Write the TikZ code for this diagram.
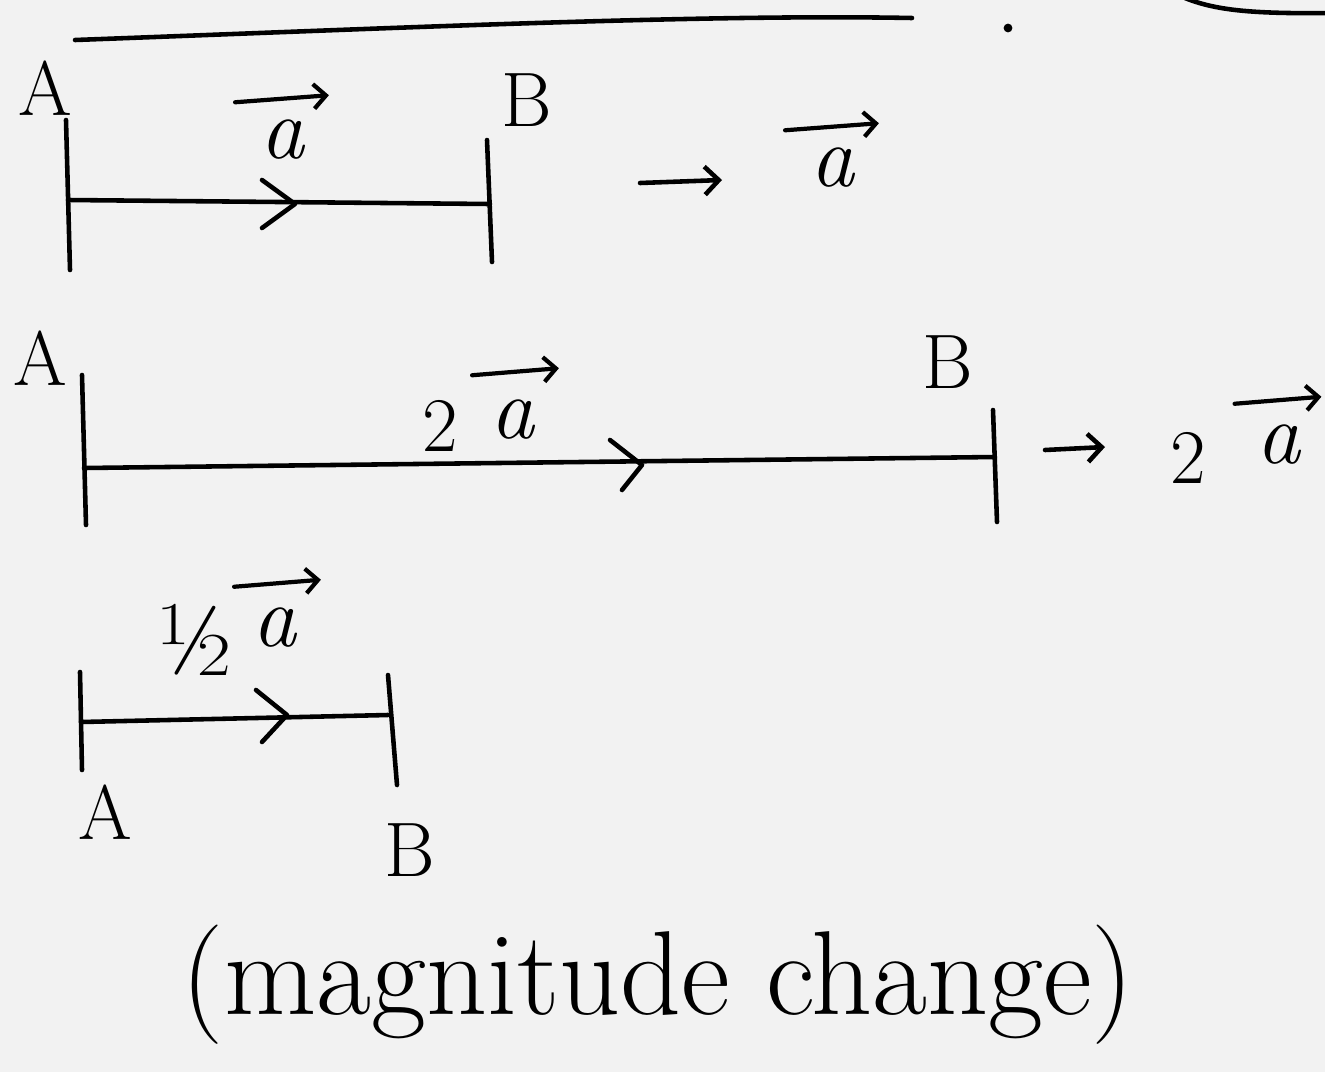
\documentclass[tikz,border=0pt]{standalone}
\usepackage{fontspec}
\usetikzlibrary{arrows.meta}
\definecolor{bg}{HTML}{F2F2F2}
\begin{document}
\begin{tikzpicture}[x=0.02cm,y=-0.02cm, line cap=round, line join=round,
  ink/.style={line width=2.6pt, black},
  lbl/.style={font=\fontsize{44}{50}\selectfont, inner sep=0pt},
  vecl/.style={font=\itshape\fontsize{50}{56}\selectfont, inner sep=0pt},
  vecbar/.style={line width=2.4pt, -{Straight Barb[length=7pt,width=14pt,line width=2.4pt]}},
  maparrow/.style={line width=2.6pt, -{Straight Barb[length=8pt,width=16pt,line width=2.6pt]}}]
\fill[bg] (0,0) rectangle (1325,1072);
\useasboundingbox (0,0) rectangle (1325,1072);

% top remnants
\coordinate (t1) at (75,40);
\coordinate (t2) at (912,18);
\draw[ink] (t1) .. controls (400,28) and (700,14) .. (t2);
\fill (1008,28) circle (2.5pt);
\coordinate (arcS) at (1185,-2);
\coordinate (arcE) at (1330,13);
\draw[ink] (arcS) .. controls (1215,10) and (1250,14) .. (arcE);

% ---------- row 1 ----------
\coordinate (A1t) at (66,120); \coordinate (A1b) at (70,270);
\coordinate (B1t) at (487,140); \coordinate (B1b) at (492,262);
\coordinate (L1s) at (68,200); \coordinate (L1e) at (490,204);
\draw[ink] (A1t) -- (A1b);
\draw[ink] (B1t) -- (B1b);
\draw[ink] (L1s) -- (L1e);
\coordinate (c1a) at (262,180); \coordinate (c1m) at (295,204); \coordinate (c1b) at (262,228);
\draw[ink] (c1a) -- (c1m) -- (c1b);
\node[lbl] (A1) at (45,88) {A};
\node[lbl] (B1) at (527,100) {B};
\node[vecl] (a1) at (282,140) {a};
\draw[vecbar] ([xshift=-14pt,yshift=10pt]a1.north west) -- ([xshift=14pt,yshift=14pt]a1.north east);
\coordinate (r1s) at (640,183); \coordinate (r1e) at (722,180);
\draw[maparrow] (r1s) -- (r1e);
\node[vecl] (a1r) at (832,168) {a};
\draw[vecbar] ([xshift=-14pt,yshift=10pt]a1r.north west) -- ([xshift=14pt,yshift=14pt]a1r.north east);

% ---------- row 2 ----------
\coordinate (A2t) at (82,375); \coordinate (A2b) at (86,525);
\coordinate (B2t) at (993,410); \coordinate (B2b) at (997,522);
\coordinate (L2s) at (84,468); \coordinate (L2e) at (995,457);
\draw[ink] (A2t) -- (A2b);
\draw[ink] (B2t) -- (B2b);
\draw[ink] (L2s) -- (L2e);
\coordinate (c2a) at (610,440); \coordinate (c2m) at (642,465); \coordinate (c2b) at (622,490);
\draw[ink] (c2a) -- (c2m) -- (c2b);
\node[lbl] (A2) at (40,358) {A};
\node[lbl] (B2) at (948,362) {B};
\node[lbl] (two2) at (440,426) {2};
\node[vecl] (a2) at (512,420) {a};
\draw[vecbar] ([xshift=-10pt,yshift=14pt]a2.north west) -- ([xshift=14pt,yshift=18pt]a2.north east);
\coordinate (r2s) at (1045,450); \coordinate (r2e) at (1105,447);
\draw[maparrow] (r2s) -- (r2e);
\node[lbl] (two2r) at (1188,458) {2};
\node[vecl] (a2r) at (1278,445) {a};
\draw[vecbar] ([xshift=-12pt,yshift=12pt]a2r.north west) -- ([xshift=12pt,yshift=16pt]a2r.north east);

% ---------- row 3 ----------
\coordinate (A3t) at (80,672); \coordinate (A3b) at (82,770);
\coordinate (B3t) at (388,675); \coordinate (B3b) at (397,785);
\coordinate (L3s) at (81,722); \coordinate (L3e) at (388,715);
\draw[ink] (A3t) -- (A3b);
\draw[ink] (B3t) -- (B3b);
\draw[ink] (L3s) -- (L3e);
\coordinate (c3a) at (256,690); \coordinate (c3m) at (287,715); \coordinate (c3b) at (262,742);
\draw[ink] (c3a) -- (c3m) -- (c3b);
\node[font=\fontsize{58}{64}\selectfont, inner sep=0pt] (half) at (195,640) {\textonehalf};
\node[vecl] (a3) at (274,628) {a};
\draw[vecbar] ([xshift=-10pt,yshift=12pt]a3.north west) -- ([xshift=14pt,yshift=16pt]a3.north east);
\node[lbl] (A3) at (105,812) {A};
\node[lbl] (B3) at (410,850) {B};

% caption
\node[font=\fontsize{68}{76}\selectfont, inner sep=0pt] (cap) at (658,985) {(magnitude change)};
\end{tikzpicture}
\end{document}
